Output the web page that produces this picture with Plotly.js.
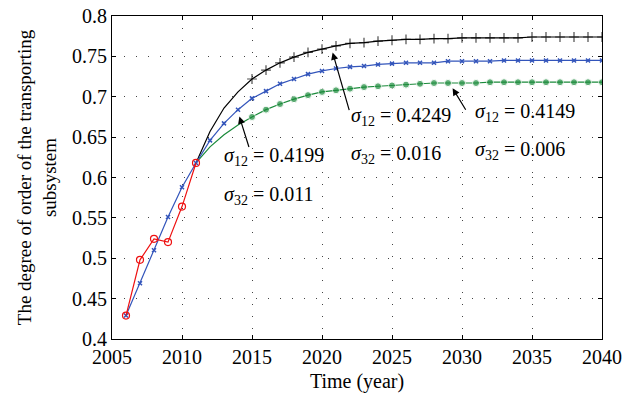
<!DOCTYPE html>
<html>
<head>
<meta charset="utf-8">
<script src="https://cdn.plot.ly/plotly-3.0.1.min.js"></script>
<style>html,body{margin:0;padding:0;background:#fff;}</style>
</head>
<body>
<div id="chart" style="width:623px;height:404px;"></div>
<script>
// Years
const actualYears = [2006, 2007, 2008, 2009, 2010, 2011];
const actualValues = [0.429, 0.498, 0.524, 0.520, 0.564, 0.618];

const blueYears = [2006,2007,2008,2009,2010,2011,2012,2013,2014,2015,2016,2017,2018,2019,2020,2021,2022,2023,2024,2025,2026,2027,2028,2029,2030,2031,2032,2033,2034,2035,2036,2037,2038,2039,2040];
const blueValues = [0.429,0.469,0.510,0.551,0.588,0.618,0.646,0.667,0.684,0.698,0.707,0.716,0.722,0.728,0.732,0.735,0.737,0.738,0.740,0.741,0.742,0.742,0.742,0.744,0.744,0.744,0.744,0.745,0.745,0.745,0.745,0.745,0.745,0.745,0.745];

const futureYears = [2011,2012,2013,2014,2015,2016,2017,2018,2019,2020,2021,2022,2023,2024,2025,2026,2027,2028,2029,2030,2031,2032,2033,2034,2035,2036,2037,2038,2039,2040];
const blackValues = [0.618,0.657,0.686,0.706,0.722,0.733,0.742,0.749,0.755,0.759,0.763,0.766,0.767,0.769,0.770,0.771,0.771,0.772,0.772,0.773,0.773,0.773,0.773,0.773,0.774,0.774,0.774,0.774,0.774,0.774];
const greenValues = [0.618,0.638,0.653,0.665,0.675,0.684,0.691,0.697,0.702,0.706,0.708,0.710,0.712,0.713,0.714,0.715,0.716,0.717,0.717,0.717,0.717,0.718,0.718,0.718,0.718,0.718,0.718,0.718,0.718,0.718];

const xTicks = [2005, 2010, 2015, 2020, 2025, 2030, 2035, 2040];
const yTicks = [0.4, 0.45, 0.5, 0.55, 0.6, 0.65, 0.7, 0.75, 0.8];
const yTickText = ['0.4', '0.45', '0.5', '0.55', '0.6', '0.65', '0.7', '0.75', '0.8'];

const labels = [
  {s12: '0.4199', s32: '0.011', tipX: 2014.1, tipY: 0.6755, ax: 10, ay: 32, tx: 2012.85, ty1: 0.6254, ty2: 0.5783},
  {s12: '0.4249', s32: '0.016', tipX: 2020.76, tipY: 0.7547, ax: 17, ay: 59, tx: 2021.95, ty1: 0.675, ty2: 0.629},
  {s12: '0.4149', s32: '0.006', tipX: 2029.33, tipY: 0.7105, ax: 14, ay: 23, tx: 2030.75, ty1: 0.680, ty2: 0.633}
];

const FONT = 'Liberation Serif, DejaVu Serif, serif';

const traces = [
  {x: futureYears, y: greenValues, mode: 'lines+markers', line: {color: '#1a8a3a', width: 1.2},
   marker: {symbol: 'circle', size: futureYears.map(y => y < 2015 ? 0 : 7), color: '#1a8a3a'}},
  {x: futureYears, y: blackValues, mode: 'lines+markers', line: {color: '#000', width: 1.2},
   marker: {symbol: 'cross-thin-open', size: futureYears.map(y => y < 2015 ? 0 : 7), color: '#000', line: {color: '#000', width: 1.2}}},
  {x: blueYears, y: blueValues, mode: 'lines+markers', line: {color: '#3355bb', width: 1.2},
   marker: {symbol: 'x-thin-open', size: 4, color: '#3355bb', line: {color: '#3355bb', width: 1.5}}},
  {x: actualYears, y: actualValues, mode: 'lines+markers', line: {color: '#ee1111', width: 1.2},
   marker: {symbol: 'circle-open', size: 7, color: '#ee1111', line: {color: '#ee1111', width: 1.2}}}
];

const annotations = [];
labels.forEach(l => {
  annotations.push({x: l.tipX, y: l.tipY, xref: 'x', yref: 'y', text: '', showarrow: true,
    ax: l.ax, ay: l.ay, arrowhead: 2, arrowsize: 1.2, arrowwidth: 1.2, arrowcolor: '#000', standoff: 0});
  annotations.push({x: l.tx, y: l.ty1, xref: 'x', yref: 'y', xanchor: 'left', yanchor: 'middle', showarrow: false,
    text: '<i>σ</i><sub>12</sub> = ' + l.s12, font: {family: FONT, size: 20, color: '#000'}});
  annotations.push({x: l.tx, y: l.ty2, xref: 'x', yref: 'y', xanchor: 'left', yanchor: 'middle', showarrow: false,
    text: '<i>σ</i><sub>32</sub> = ' + l.s32, font: {family: FONT, size: 20, color: '#000'}});
});

const layout = {
  width: 623, height: 404,
  margin: {l: 112, r: 21, t: 16, b: 65},
  paper_bgcolor: '#fff', plot_bgcolor: '#fff',
  showlegend: false,
  font: {family: FONT, size: 20, color: '#000'},
  xaxis: {
    range: [2005, 2040], tickvals: xTicks, ticktext: xTicks.map(String),
    showline: true, linecolor: '#000', linewidth: 1, mirror: 'ticks',
    ticks: 'inside', ticklen: 4, tickcolor: '#000',
    showgrid: true, gridcolor: '#444', gridwidth: 1, griddash: '1px,11px',
    zeroline: false, tickfont: {family: FONT, size: 20},
    title: {text: 'Time (year)', font: {family: FONT, size: 20}, standoff: 6}
  },
  yaxis: {
    range: [0.4, 0.8], tickvals: yTicks, ticktext: yTickText,
    showline: true, linecolor: '#000', linewidth: 1, mirror: 'ticks',
    ticks: 'inside', ticklen: 4, tickcolor: '#000',
    showgrid: true, gridcolor: '#444', gridwidth: 1, griddash: '1px,11px',
    zeroline: false, tickfont: {family: FONT, size: 20},
    title: {text: 'The degree of order of the transporting<br>subsystem', font: {family: FONT, size: 19}, standoff: 10}
  },
  annotations: annotations
};

Plotly.newPlot('chart', traces, layout, {displayModeBar: false, staticPlot: true});
</script>
</body>
</html>
